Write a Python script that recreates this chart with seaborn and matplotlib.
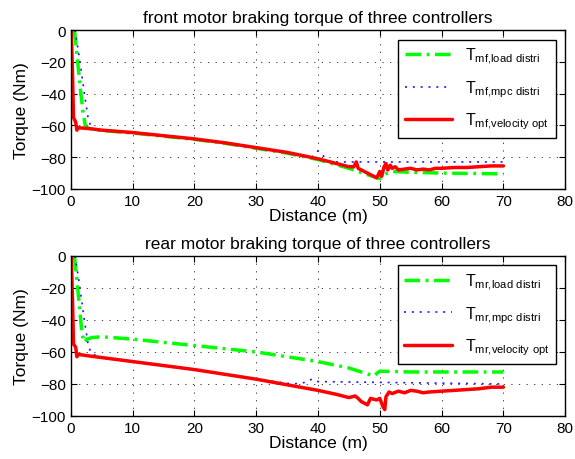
import numpy as np
import matplotlib.pyplot as plt
import seaborn as sns

# front motor
front_red_x = [0.1, 0.3, 0.45, 0.8, 1.0, 1.2, 3, 5, 10, 15, 20, 25, 30, 35, 40, 43, 45, 45.8, 46.2, 46.5,
               47, 48, 49, 49.5, 50, 50.3, 50.7, 51, 51.3, 51.7, 52, 52.5, 53, 54, 55, 56, 57, 58, 59, 60,
               62, 64, 66, 68, 70]
front_red_y = [0, -30, -55, -58, -63, -61.5, -62, -63, -64.5, -66.5, -68.5, -71, -74, -77, -81, -84, -86,
               -86, -83, -87, -88, -90, -92, -93, -89, -92, -86, -84, -88, -85, -87, -86, -88, -87.5, -87,
               -88, -87.5, -88, -87, -87, -86.5, -86.5, -86, -85.5, -85.5]
front_green_x = [0.6, 1.0, 1.5, 2.0, 2.4, 3, 5, 10, 15, 20, 25, 30, 35, 40, 45, 48, 50, 50.5, 52, 55, 60, 70]
front_green_y = [0, -15, -35, -52, -61, -62, -63.2, -64.8, -66.8, -68.8, -71.3, -74.4, -77.5, -81.5, -87,
                 -91, -93.5, -91, -89, -89.5, -90, -90.5]
front_blue_x = [0.7, 1.5, 2.2, 2.8, 3.2, 4, 10, 20, 30, 39, 40, 40.5, 42, 50, 60, 70]
front_blue_y = [0, -20, -40, -55, -60, -62.5, -64.5, -68.5, -74, -80, -76, -78, -83, -83, -83, -83]

# rear motor
rear_red_x = [0.1, 0.3, 0.45, 0.8, 1.0, 1.2, 3, 5, 10, 15, 20, 25, 30, 35, 40, 43, 45, 46, 46.5, 47, 48,
              48.5, 49.5, 50, 50.5, 50.8, 51, 51.5, 52, 53, 54, 55, 56, 57, 58, 60, 62, 64, 66, 68, 70]
rear_red_y = [0, -30, -55, -57, -63, -61.5, -62.5, -63.5, -66, -68.5, -71, -74, -77, -80.5, -84, -86.5,
              -88.5, -87.5, -89, -91, -93, -89, -90, -89, -94, -96, -88, -85, -86, -84.5, -85.5, -84,
              -84.5, -85.5, -85, -84.5, -84, -83.5, -83, -82, -82]
rear_green_x = [0.6, 1.0, 1.5, 1.8, 2.2, 2.6, 3.5, 5, 10, 20, 30, 40, 45, 49, 50, 55, 60, 70]
rear_green_y = [0, -15, -35, -48, -54, -52, -51, -50.5, -52, -56, -60, -66, -70, -75, -72, -72.5, -72.5, -72.5]
rear_blue_x = [0.7, 1.5, 2.2, 2.8, 3.3, 5, 10, 20, 30, 36, 38, 39, 40, 50, 60, 70]
rear_blue_y = [0, -20, -40, -55, -61, -63.5, -66, -71, -77, -80, -79, -77, -78.5, -79, -79.5, -80]

titles = ["front motor braking torque of three controllers",
          "rear motor braking torque of three controllers"]
subs = ["mf", "mr"]

sns.set_style("ticks")
plt.rcParams['font.family'] = ['Liberation Sans', 'DejaVu Sans']
plt.rcParams['mathtext.fontset'] = 'custom'
plt.rcParams['mathtext.rm'] = 'Liberation Sans'
plt.rcParams['font.size'] = 11
plt.rcParams['text.color'] = 'black'
plt.rcParams['axes.labelcolor'] = 'black'
plt.rcParams['xtick.color'] = 'black'
plt.rcParams['ytick.color'] = 'black'

fig = plt.figure(figsize=(5.75, 4.6), dpi=100)
ax1 = fig.add_axes([0.123, 0.587, 0.860, 0.3456])
ax2 = fig.add_axes([0.123, 0.0935, 0.860, 0.348])

series = [
    (front_green_x, front_green_y, front_blue_x, front_blue_y, front_red_x, front_red_y),
    (rear_green_x, rear_green_y, rear_blue_x, rear_blue_y, rear_red_x, rear_red_y),
]

for ax, s, title, sub in zip([ax1, ax2], series, titles, subs):
    gx, gy, bx, by, rx, ry = s
    sns.lineplot(x=gx, y=gy, ax=ax, color=(0, 1, 0), linewidth=2.5, dashes=False,
                 sort=False, estimator=None, label=r'$\mathregular{T_{%s{,}load\ distri}}$' % sub)
    sns.lineplot(x=bx, y=by, ax=ax, color=(0.1, 0.1, 1), linewidth=1.2, dashes=False,
                 sort=False, estimator=None, label=r'$\mathregular{T_{%s{,}mpc\ distri}}$' % sub)
    sns.lineplot(x=rx, y=ry, ax=ax, color='red', linestyle='-', linewidth=2.5,
                 sort=False, estimator=None, label=r'$\mathregular{T_{%s{,}velocity\ opt}}$' % sub)
    ax.lines[0].set_dashes([4.5, 1.6, 0.8, 1.6])
    ax.lines[1].set_dashes([1.2, 3.5])
    ax.set_xlim(0, 80)
    ax.set_ylim(-100, 0)
    ax.set_xticks(np.arange(0, 81, 10))
    ax.set_yticks(np.arange(-100, 1, 20))
    ax.grid(True, color='0.25', linewidth=0.7, dashes=(1.3, 6.5))
    ax.tick_params(direction='in', top=True, right=True, length=4, labelsize=11)
    for sp in ax.spines.values():
        sp.set_visible(True)
        sp.set_color('black')
        sp.set_linewidth(1.0)
    ax.set_xlabel('Distance (m)', fontsize=12.5, labelpad=0)
    ax.set_ylabel('Torque (Nm)', fontsize=12.5, labelpad=2)
    ax.set_title(title, fontsize=12.5, pad=6)
    leg = ax.legend(loc='upper right', fontsize=11.5, handlelength=3.0, labelspacing=0.75,
                    fancybox=False, framealpha=1, edgecolor='black', borderaxespad=0.6)
    leg.get_frame().set_linewidth(1.0)

fig.savefig('out.png', dpi=100)
